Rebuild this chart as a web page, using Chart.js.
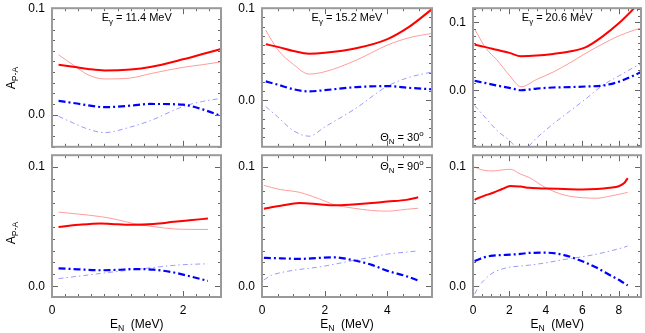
<!DOCTYPE html>
<html lang="en">
<head>
<meta charset="UTF-8">
<title>Asymmetry A(P-A) vs neutron energy</title>
<script src="https://cdn.jsdelivr.net/npm/chart.js@4.4.1/dist/chart.umd.min.js"></script>
<style>
body {
margin: 0;
background: #fff;
font-family: "Liberation Sans", Arial, Helvetica, sans-serif;
}
#wrap {
position: relative;
width: 645px;
height: 333px;
overflow: hidden;
}
canvas {
position: absolute;
}
.lbl {
position: absolute;
white-space: nowrap;
transform: translate(-50%, -50%);
color: #000;
line-height: 1;
}
.lbl sub, .lbl sup {
font-size: 72%;
line-height: 0;
}
.rot {
transform: translate(-50%, -50%) rotate(-90deg);
}
</style>
</head>
<body>
<div id="wrap"></div>
<script>
// energies (MeV) and asymmetries
// top row: theta_N = 30 deg, bottom row: theta_N = 90 deg
const tlX = [0.1, 0.35, 0.55, 0.8, 1.2, 1.5, 2.0, 2.3, 2.58];
const tlRedThick = [0.047, 0.0448, 0.043, 0.0416, 0.0425, 0.0448, 0.052, 0.057, 0.0617];
const tlRedThin = [0.0563, 0.0455, 0.0375, 0.0336, 0.0345, 0.0385, 0.0445, 0.047, 0.0496];
const tlBlueThick = [0.013, 0.0108, 0.0088, 0.0071, 0.0085, 0.0101, 0.0094, 0.005, -0.0012];
const tlBlueThin = [-0.0015, -0.0085, -0.0135, -0.0168, -0.0115, -0.0056, 0.0077, 0.0125, 0.0153];

const tmX = [0.12, 0.5, 1.0, 1.5, 2.0, 3.0, 4.0, 4.7, 5.42];
const tmRedThick = [0.0608, 0.058, 0.0535, 0.0505, 0.0515, 0.0565, 0.0665, 0.08, 0.099];
const tmRedThin = [0.0761, 0.055, 0.039, 0.0285, 0.031, 0.0435, 0.06, 0.068, 0.0727];
const tmBlueThick = [0.0205, 0.017, 0.012, 0.0096, 0.011, 0.0143, 0.0154, 0.0135, 0.012];
const tmBlueThin = [-0.0068, -0.018, -0.033, -0.039, -0.029, -0.0085, 0.0154, 0.025, 0.0307];

const trX = [0.09, 0.7, 1.3, 2.0, 2.64, 3.5, 4.4, 5.3, 6.2, 7.1, 8.0, 8.85, 9.22];
const trRedThick = [0.067, 0.0635, 0.0595, 0.055, 0.05, 0.051, 0.0535, 0.057, 0.0635, 0.079, 0.0985, 0.121, 0.132];
const trRedThin = [0.09, 0.062, 0.045, 0.022, 0.0051, 0.016, 0.0268, 0.04, 0.0546, 0.068, 0.08, 0.0885, 0.0917];
const trBlueThick = [0.0139, 0.0105, 0.007, 0.0035, 0.0, 0.0025, 0.004, 0.0046, 0.0055, 0.0069, 0.0125, 0.022, 0.0268];
const trBlueThin = [-0.0227, -0.041, -0.0588, -0.074, -0.09, -0.07, -0.0496, -0.031, -0.0125, 0.0069, 0.021, 0.034, 0.0385];

const blX = [0.1, 0.4, 0.74, 1.0, 1.25, 1.55, 1.86, 2.1, 2.38];
const blRedThick = [0.0497, 0.0515, 0.0527, 0.052, 0.0515, 0.0522, 0.054, 0.0553, 0.0568];
const blRedThin = [0.0622, 0.0605, 0.0584, 0.0558, 0.0525, 0.05, 0.0481, 0.0477, 0.0476];
const blBlueThick = [0.0151, 0.0143, 0.0135, 0.0138, 0.0145, 0.014, 0.0116, 0.0085, 0.0046];
const blBlueThin = [0.0065, 0.0085, 0.0108, 0.0125, 0.014, 0.0158, 0.0176, 0.0184, 0.0189];

const bmX = [0.06, 0.3, 0.6, 1.2, 1.8, 2.3, 2.9, 3.5, 4.0, 4.6, 4.98];
const bmRedThick = [0.0649, 0.0662, 0.0675, 0.0697, 0.0688, 0.0679, 0.0686, 0.0697, 0.071, 0.0724, 0.0746];
const bmRedThin = [0.0846, 0.0828, 0.081, 0.0787, 0.0735, 0.0684, 0.0655, 0.0635, 0.063, 0.0645, 0.0654];
const bmBlueThick = [0.0238, 0.0237, 0.0235, 0.023, 0.0238, 0.0243, 0.022, 0.018, 0.013, 0.0085, 0.0049];
const bmBlueThin = [0.0054, 0.0092, 0.0115, 0.0142, 0.0161, 0.0185, 0.0216, 0.0245, 0.027, 0.0287, 0.0297];

const brX = [0.09, 0.3, 0.6, 1.1, 1.6, 2.05, 2.6, 3.1, 4.0, 5.0, 6.0, 6.8, 7.5, 8.0, 8.3, 8.49];
const brRedThick = [0.0724, 0.074, 0.0758, 0.0784, 0.0815, 0.0841, 0.0835, 0.0825, 0.0819, 0.0815, 0.0811, 0.0815, 0.0825, 0.0838, 0.0865, 0.0906];
const brRedThin = [0.1, 0.0985, 0.0972, 0.0966, 0.0975, 0.098, 0.094, 0.091, 0.0825, 0.0765, 0.0742, 0.0738, 0.0755, 0.077, 0.078, 0.0787];
const brBlueThick = [0.0211, 0.0225, 0.0243, 0.0257, 0.0262, 0.0265, 0.0272, 0.028, 0.0282, 0.0262, 0.021, 0.0155, 0.0095, 0.0055, 0.0025, 0.0008];
const brBlueThin = [-0.0065, -0.0005, 0.005, 0.0115, 0.0145, 0.0162, 0.017, 0.0178, 0.0197, 0.0225, 0.0248, 0.027, 0.0295, 0.0315, 0.0328, 0.0338];

const yTickValues = [0, 0.1];
const xTicksLeft = [0, 2];
const xTicksMid = [0, 2, 4];
const xTicksRight = [0, 2, 4, 6, 8];
const gammaEnergies = ['11.4', '15.2', '20.6'];

const FONT = '"Liberation Sans", Arial, Helvetica, sans-serif';
const YW = 48, PT = 10, PR = 4, PB = 10, XH = 24;

// frame plus small inward ticks on all four sides
const framePlugin = {
id: 'frame',
afterDatasetsDraw(chart, args, opts) {
const {ctx, chartArea: a, scales: {x, y}} = chart;
ctx.save();
ctx.strokeStyle = '#666';
ctx.lineWidth = 1;
ctx.beginPath();
for (let i = 0; i * opts.xStep <= x.max + 1e-9; i++) {
const v = i * opts.xStep;
const px = Math.round(x.getPixelForValue(v)) + 0.5;
const len = Math.abs(v / opts.xMajor - Math.round(v / opts.xMajor)) < 1e-6 ? 6 : 3;
ctx.moveTo(px, a.bottom); ctx.lineTo(px, a.bottom - len);
ctx.moveTo(px, a.top); ctx.lineTo(px, a.top + len);
}
for (let i = Math.ceil(y.min / 0.01 - 1e-6); i * 0.01 <= y.max + 1e-9; i++) {
const py = Math.round(y.getPixelForValue(i * 0.01)) + 0.5;
const len = i % 10 === 0 ? 6 : 3;
ctx.moveTo(a.left, py); ctx.lineTo(a.left + len, py);
ctx.moveTo(a.right, py); ctx.lineTo(a.right - len, py);
}
ctx.stroke();
ctx.strokeStyle = '#9a9a9a';
ctx.lineWidth = 2;
ctx.strokeRect(a.left, a.top, a.right - a.left, a.bottom - a.top);
ctx.restore();
}
};

function series(xs, ys) {
return xs.map((v, i) => ({x: v, y: ys[i]}));
}

function createPanel(box, xs, lines, yMin, yMax, xMax, xStep, xTicks) {
const bottomRow = xTicks !== null;
const canvas = document.createElement('canvas');
const w = box.r - box.l + YW + PR;
const h = box.b - box.t + PT + (bottomRow ? XH : PB);
canvas.width = w;
canvas.height = h;
canvas.style.left = (box.l - YW) + 'px';
canvas.style.top = (box.t - PT) + 'px';
document.getElementById('wrap').appendChild(canvas);
const mk = (data, color, width, dash) => ({
data: series(xs, data),
borderColor: color,
borderWidth: width,
borderDash: dash,
pointRadius: 0,
fill: false,
cubicInterpolationMode: 'monotone',
clip: 0
});
return new Chart(canvas.getContext('2d'), {
type: 'line',
data: {
datasets: [
mk(lines[0], '#ff0000', 2, []),
mk(lines[2], '#0000ff', 2.2, [7, 3, 2, 3]),
mk(lines[1], '#ff9c9c', 1, []),
mk(lines[3], '#9a9aff', 1, [5, 3, 1.5, 3])
]
},
options: {
responsive: false,
animation: false,
layout: {padding: {top: PT, right: PR, left: 0, bottom: bottomRow ? 0 : PB}},
plugins: {
legend: {display: false},
tooltip: {enabled: false},
frame: {xStep: xStep, xMajor: 2}
},
scales: {
x: {
type: 'linear',
min: 0,
max: xMax,
display: bottomRow,
grid: {display: false, drawTicks: false},
border: {display: false},
afterBuildTicks: s => { s.ticks = (xTicks || []).map(v => ({value: v})); },
afterFit: s => { s.height = bottomRow ? XH : 0; },
ticks: {
padding: 6,
maxRotation: 0,
autoSkip: false,
color: '#000',
font: {family: FONT, size: 12},
callback: v => String(v)
}
},
y: {
type: 'linear',
min: yMin,
max: yMax,
grid: {display: false, drawTicks: false},
border: {display: false},
afterBuildTicks: s => { s.ticks = yTickValues.map(v => ({value: v})); },
afterFit: s => { s.width = YW; },
ticks: {
padding: 7,
color: '#000',
font: {family: FONT, size: 12},
callback: v => v.toFixed(1)
}
}
}
},
plugins: [framePlugin]
});
}

const cols = [{l: 52, r: 221.5}, {l: 262, r: 432}, {l: 473, r: 641.5}];
const rows = [{t: 4, b: 151}, {t: 151, b: 297}];
const box = (c, r) => ({l: cols[c].l, r: cols[c].r, t: rows[r].t, b: rows[r].b});

createPanel(box(0, 0), tlX, [tlRedThick, tlRedThin, tlBlueThick, tlBlueThin], -0.0301, 0.1, 2.58, 0.2, null);
createPanel(box(1, 0), tmX, [tmRedThick, tmRedThin, tmBlueThick, tmBlueThin], -0.0505, 0.1, 5.42, 0.5, null);
createPanel(box(2, 0), trX, [trRedThick, trRedThin, trBlueThick, trBlueThin], -0.0833, 0.1208, 9.22, 0.5, null);
createPanel(box(0, 1), blX, [blRedThick, blRedThin, blBlueThick, blBlueThin], -0.0089, 0.1098, 2.58, 0.2, xTicksLeft);
createPanel(box(1, 1), bmX, [bmRedThick, bmRedThin, bmBlueThick, bmBlueThin], -0.0089, 0.1098, 5.42, 0.5, xTicksMid);
createPanel(box(2, 1), brX, [brRedThick, brRedThin, brBlueThick, brBlueThin], -0.0089, 0.1098, 9.22, 0.5, xTicksRight);

// text with sub/superscripts as html overlays
function label(html, x, y, size, cls) {
const d = document.createElement('div');
d.className = 'lbl' + (cls ? ' ' + cls : '');
d.style.left = x + 'px';
d.style.top = y + 'px';
d.style.fontSize = size + 'px';
d.innerHTML = html;
document.getElementById('wrap').appendChild(d);
}

cols.forEach((c, i) => {
label('E<sub>&gamma;</sub> = ' + gammaEnergies[i] + ' MeV', (c.l + c.r) / 2, 17, 11);
label('E<sub>N</sub>&nbsp; (MeV)', (c.l + c.r) / 2, 324, 12);
});
label('&Theta;<sub>N</sub> = 30<sup>o</sup>', 402, 137, 11);
label('&Theta;<sub>N</sub> = 90<sup>o</sup>', 402, 166, 11);
label('A<sub>P-A</sub>', 11, 78, 12, 'rot');
label('A<sub>P-A</sub>', 11, 233, 12, 'rot');
</script>
</body>
</html>
